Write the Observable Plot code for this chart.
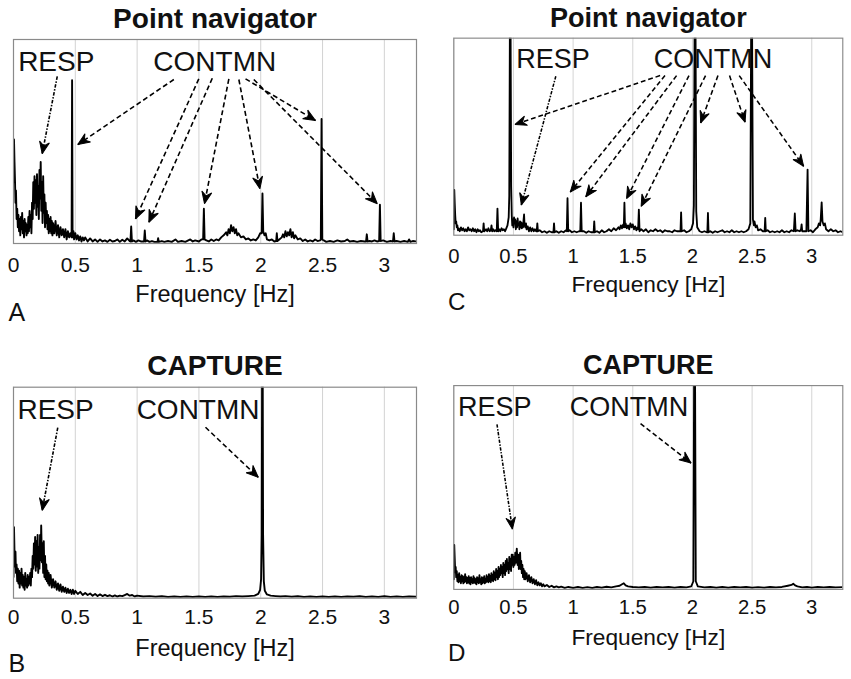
<!DOCTYPE html>
<html><head><meta charset="utf-8">
<script src="https://cdn.jsdelivr.net/npm/d3@7"></script>
<script src="https://cdn.jsdelivr.net/npm/@observablehq/plot@0.6"></script>
<style>
body{margin:0;background:#fff;}
#wrap{position:relative;width:851px;height:679px;overflow:hidden;background:#fff;}
.panel{position:absolute;}
</style></head><body><div id="wrap"></div>
<script>
// ---------- data ----------
const tickValues = [0, 0.5, 1, 1.5, 2, 2.5, 3];
const xLabel = "Frequency [Hz]";
const titles = {A: "Point navigator", C: "Point navigator", B: "CAPTURE", D: "CAPTURE"};
const annotationNames = ["RESP", "CONTMN"];

// [frequency Hz, relative amplitude (1 = top of axes)]
const spectrumA = [
[0,0.30],[0.004,0.51],[0.008,0.40],[0.012,0.31],[0.016,0.20],[0.02,0.26],[0.025,0.12],[0.03,0.17],[0.035,0.08],[0.04,0.14],
[0.045,0.06],[0.05,0.12],[0.055,0.04],[0.06,0.13],[0.065,0.07],[0.07,0.15],[0.075,0.05],[0.08,0.11],[0.085,0.03],[0.09,0.12],
[0.095,0.06],[0.1,0.10],[0.105,0.04],[0.11,0.09],[0.115,0.05],[0.12,0.13],[0.125,0.06],[0.13,0.16],[0.135,0.08],[0.14,0.14],
[0.145,0.05],[0.15,0.20],[0.155,0.12],[0.16,0.30],[0.165,0.17],[0.17,0.33],[0.175,0.20],[0.18,0.31],[0.185,0.14],[0.19,0.34],
[0.195,0.18],[0.2,0.28],[0.205,0.12],[0.21,0.36],[0.215,0.22],[0.22,0.40],[0.225,0.16],[0.23,0.30],[0.235,0.10],[0.24,0.33],
[0.245,0.15],[0.25,0.24],[0.255,0.08],[0.26,0.20],[0.265,0.10],[0.27,0.16],[0.275,0.07],[0.28,0.14],[0.285,0.05],[0.29,0.12],
[0.295,0.06],[0.3,0.13],[0.305,0.05],[0.31,0.11],[0.315,0.04],[0.32,0.10],[0.33,0.05],[0.34,0.11],[0.35,0.04],[0.36,0.09],
[0.37,0.03],[0.38,0.08],[0.39,0.04],[0.4,0.07],[0.41,0.03],[0.42,0.07],[0.43,0.02],[0.44,0.06],[0.45,0.03],[0.46,0.05],
[0.47,0.03],[0.474,0.80],[0.478,0.03],[0.485,0.06],[0.49,0.02],[0.5,0.05],[0.51,0.02],[0.52,0.04],[0.53,0.015],[0.54,0.035],
[0.55,0.01],[0.56,0.03],[0.57,0.015],[0.58,0.03],[0.6,0.01],[0.62,0.025],[0.64,0.01],[0.66,0.02],[0.68,0.008],[0.7,0.02],
[0.72,0.01],[0.74,0.015],[0.76,0.008],[0.78,0.018],[0.8,0.01],[0.82,0.012],[0.84,0.02],[0.86,0.008],[0.88,0.018],[0.9,0.01],
[0.92,0.025],[0.94,0.012],[0.946,0.01],[0.952,0.083],[0.958,0.01],[0.97,0.015],[0.99,0.008],[1.01,0.015],[1.03,0.01],[1.056,0.01],
[1.062,0.064],[1.068,0.01],[1.08,0.015],[1.1,0.008],[1.12,0.012],[1.14,0.008],[1.165,0.008],[1.17,0.026],[1.175,0.008],[1.2,0.012],
[1.22,0.008],[1.25,0.012],[1.28,0.008],[1.31,0.02],[1.33,0.008],[1.36,0.012],[1.39,0.008],[1.43,0.02],[1.45,0.01],[1.47,0.015],
[1.5,0.01],[1.52,0.02],[1.534,0.02],[1.54,0.17],[1.546,0.02],[1.56,0.015],[1.58,0.01],[1.6,0.02],[1.62,0.012],[1.64,0.02],
[1.66,0.015],[1.68,0.03],[1.7,0.04],[1.72,0.055],[1.73,0.04],[1.74,0.07],[1.75,0.05],[1.76,0.09],[1.77,0.06],[1.78,0.08],
[1.79,0.05],[1.8,0.07],[1.81,0.04],[1.82,0.05],[1.84,0.03],[1.86,0.035],[1.88,0.02],[1.9,0.025],[1.92,0.015],[1.94,0.02],
[1.96,0.015],[1.98,0.03],[1.995,0.05],[2.008,0.05],[2.014,0.245],[2.02,0.06],[2.03,0.04],[2.04,0.05],[2.05,0.02],[2.07,0.015],
[2.09,0.02],[2.11,0.01],[2.125,0.012],[2.13,0.05],[2.135,0.012],[2.15,0.02],[2.17,0.03],[2.18,0.045],[2.19,0.03],[2.2,0.06],
[2.21,0.035],[2.22,0.055],[2.23,0.04],[2.24,0.07],[2.25,0.03],[2.26,0.055],[2.27,0.025],[2.28,0.04],[2.3,0.02],[2.32,0.025],
[2.34,0.012],[2.36,0.02],[2.38,0.01],[2.4,0.015],[2.42,0.01],[2.44,0.02],[2.46,0.012],[2.48,0.015],[2.486,0.02],[2.492,0.61],
[2.498,0.02],[2.51,0.015],[2.53,0.008],[2.56,0.012],[2.59,0.008],[2.62,0.015],[2.65,0.01],[2.68,0.012],[2.7,0.02],[2.72,0.01],
[2.75,0.012],[2.78,0.008],[2.81,0.012],[2.84,0.01],[2.852,0.01],[2.858,0.045],[2.864,0.01],[2.88,0.012],[2.9,0.01],[2.92,0.015],
[2.94,0.01],[2.958,0.012],[2.964,0.19],[2.97,0.012],[2.99,0.015],[3.02,0.008],[3.05,0.012],[3.07,0.01],[3.076,0.05],[3.082,0.01],
[3.1,0.012],[3.13,0.008],[3.16,0.012],[3.19,0.008],[3.2,0.02],[3.21,0.008],[3.23,0.012],[3.26,0.01]
];

const spectrumC = [
[0,0.03],[0.004,0.23],[0.008,0.16],[0.012,0.10],[0.016,0.06],[0.02,0.07],[0.025,0.04],[0.03,0.05],[0.035,0.025],[0.04,0.035],
[0.05,0.02],[0.06,0.04],[0.07,0.025],[0.08,0.035],[0.09,0.02],[0.1,0.03],[0.11,0.02],[0.12,0.04],[0.13,0.025],[0.14,0.03],
[0.15,0.02],[0.16,0.035],[0.17,0.02],[0.18,0.03],[0.19,0.015],[0.2,0.03],[0.21,0.02],[0.22,0.025],[0.23,0.015],[0.245,0.02],
[0.25,0.06],[0.255,0.02],[0.27,0.03],[0.28,0.02],[0.29,0.035],[0.3,0.02],[0.31,0.025],[0.316,0.05],[0.322,0.02],[0.33,0.03],
[0.34,0.02],[0.35,0.025],[0.36,0.02],[0.366,0.135],[0.372,0.02],[0.38,0.03],[0.39,0.02],[0.4,0.035],[0.41,0.025],[0.42,0.03],
[0.43,0.02],[0.44,0.035],[0.45,0.05],[0.46,0.09],[0.465,0.2],[0.47,1.05],[0.476,1.05],[0.481,0.25],[0.486,0.10],[0.49,0.05],
[0.495,0.08],[0.5,0.04],[0.505,0.09],[0.51,0.06],[0.515,0.08],[0.52,0.03],[0.525,0.07],[0.53,0.04],[0.535,0.085],[0.54,0.05],
[0.545,0.06],[0.55,0.03],[0.555,0.07],[0.56,0.04],[0.565,0.065],[0.57,0.035],[0.575,0.06],[0.58,0.04],[0.585,0.08],[0.589,0.105],
[0.593,0.05],[0.6,0.04],[0.605,0.06],[0.61,0.03],[0.62,0.045],[0.63,0.02],[0.64,0.04],[0.65,0.02],[0.66,0.035],[0.67,0.02],
[0.68,0.03],[0.69,0.02],[0.695,0.02],[0.7,0.06],[0.705,0.02],[0.72,0.025],[0.74,0.015],[0.76,0.02],[0.78,0.012],[0.8,0.02],
[0.82,0.015],[0.835,0.015],[0.84,0.06],[0.845,0.015],[0.86,0.02],[0.88,0.012],[0.9,0.02],[0.92,0.015],[0.94,0.025],[0.947,0.02],
[0.953,0.188],[0.959,0.02],[0.97,0.025],[0.99,0.015],[1.01,0.02],[1.03,0.015],[1.05,0.02],[1.06,0.02],[1.066,0.165],[1.072,0.02],
[1.09,0.02],[1.11,0.012],[1.13,0.02],[1.15,0.015],[1.172,0.015],[1.177,0.07],[1.182,0.015],[1.2,0.02],[1.22,0.012],[1.24,0.025],
[1.26,0.015],[1.28,0.02],[1.3,0.03],[1.32,0.02],[1.34,0.035],[1.36,0.025],[1.38,0.04],[1.39,0.03],[1.4,0.05],[1.41,0.035],
[1.42,0.055],[1.425,0.04],[1.43,0.165],[1.435,0.04],[1.44,0.06],[1.45,0.035],[1.46,0.05],[1.47,0.03],[1.48,0.06],[1.49,0.04],
[1.5,0.055],[1.51,0.03],[1.52,0.045],[1.53,0.025],[1.54,0.04],[1.545,0.03],[1.551,0.13],[1.557,0.02],[1.57,0.03],[1.59,0.02],
[1.61,0.03],[1.63,0.015],[1.65,0.025],[1.67,0.02],[1.69,0.03],[1.71,0.02],[1.73,0.025],[1.75,0.015],[1.77,0.025],[1.79,0.02],
[1.81,0.02],[1.83,0.015],[1.85,0.025],[1.87,0.02],[1.89,0.02],[1.9,0.02],[1.905,0.116],[1.91,0.02],[1.93,0.025],[1.95,0.015],
[1.97,0.02],[1.99,0.03],[2.005,0.06],[2.012,0.15],[2.018,1.05],[2.026,1.05],[2.032,0.12],[2.04,0.04],[2.06,0.02],[2.08,0.015],
[2.1,0.02],[2.12,0.015],[2.125,0.015],[2.13,0.113],[2.135,0.015],[2.15,0.02],[2.17,0.012],[2.19,0.02],[2.21,0.015],[2.23,0.02],
[2.25,0.025],[2.27,0.015],[2.29,0.02],[2.31,0.015],[2.33,0.025],[2.35,0.015],[2.37,0.02],[2.39,0.015],[2.41,0.02],[2.43,0.015],
[2.45,0.02],[2.47,0.03],[2.485,0.06],[2.492,1.05],[2.5,1.05],[2.507,0.08],[2.515,0.05],[2.52,0.07],[2.53,0.04],[2.54,0.05],
[2.55,0.025],[2.57,0.03],[2.59,0.02],[2.605,0.02],[2.61,0.088],[2.615,0.02],[2.63,0.025],[2.65,0.015],[2.67,0.02],[2.69,0.015],
[2.71,0.02],[2.73,0.015],[2.75,0.025],[2.77,0.015],[2.79,0.02],[2.81,0.015],[2.83,0.025],[2.85,0.02],[2.858,0.11],[2.865,0.02],
[2.88,0.025],[2.9,0.02],[2.91,0.03],[2.915,0.055],[2.92,0.02],[2.94,0.02],[2.955,0.02],[2.965,0.333],[2.972,0.02],[2.99,0.025],
[3.01,0.015],[3.03,0.03],[3.05,0.04],[3.06,0.06],[3.07,0.05],[3.075,0.08],[3.083,0.167],[3.09,0.07],[3.1,0.05],[3.11,0.06],
[3.12,0.03],[3.14,0.02],[3.16,0.03],[3.18,0.02],[3.2,0.025],[3.22,0.015],[3.24,0.02],[3.26,0.015]
];

const spectrumB = [
[0,0.10],[0.004,0.336],[0.008,0.22],[0.012,0.15],[0.016,0.22],[0.02,0.12],[0.025,0.16],[0.03,0.08],[0.035,0.14],[0.04,0.07],
[0.045,0.13],[0.05,0.05],[0.055,0.12],[0.06,0.07],[0.065,0.14],[0.07,0.06],[0.075,0.11],[0.08,0.05],[0.085,0.10],[0.09,0.04],
[0.095,0.12],[0.1,0.06],[0.105,0.09],[0.11,0.05],[0.115,0.11],[0.12,0.06],[0.125,0.10],[0.13,0.07],[0.135,0.12],[0.14,0.06],
[0.145,0.14],[0.15,0.10],[0.155,0.20],[0.16,0.14],[0.165,0.26],[0.17,0.16],[0.175,0.29],[0.18,0.13],[0.185,0.27],[0.19,0.15],
[0.195,0.30],[0.2,0.12],[0.205,0.24],[0.21,0.14],[0.215,0.30],[0.22,0.18],[0.224,0.345],[0.23,0.17],[0.235,0.26],[0.24,0.12],
[0.245,0.27],[0.25,0.10],[0.255,0.20],[0.26,0.09],[0.265,0.16],[0.27,0.08],[0.275,0.13],[0.28,0.07],[0.285,0.12],[0.29,0.06],
[0.3,0.11],[0.31,0.05],[0.32,0.09],[0.33,0.05],[0.34,0.08],[0.35,0.04],[0.36,0.07],[0.37,0.035],[0.38,0.065],[0.39,0.03],
[0.4,0.055],[0.41,0.03],[0.42,0.05],[0.43,0.025],[0.44,0.045],[0.45,0.025],[0.46,0.04],[0.47,0.02],[0.48,0.04],[0.49,0.02],
[0.5,0.035],[0.52,0.02],[0.54,0.03],[0.56,0.015],[0.58,0.025],[0.6,0.015],[0.62,0.022],[0.64,0.012],[0.66,0.02],[0.68,0.01],
[0.7,0.018],[0.72,0.01],[0.74,0.016],[0.76,0.01],[0.78,0.014],[0.8,0.008],[0.82,0.013],[0.84,0.008],[0.86,0.012],[0.88,0.01],
[0.9,0.015],[0.92,0.02],[0.94,0.012],[0.96,0.015],[0.98,0.008],[1,0.012],[1.05,0.008],[1.1,0.01],[1.15,0.007],[1.2,0.009],
[1.25,0.006],[1.3,0.008],[1.35,0.006],[1.4,0.008],[1.45,0.006],[1.5,0.008],[1.55,0.006],[1.6,0.008],[1.65,0.006],[1.7,0.008],
[1.75,0.007],[1.8,0.01],[1.85,0.008],[1.9,0.01],[1.95,0.012],[1.98,0.02],[1.995,0.04],[2.003,0.09],[2.008,0.3],[2.011,1.05],
[2.016,1.05],[2.019,0.3],[2.025,0.08],[2.033,0.035],[2.05,0.018],[2.08,0.012],[2.12,0.01],[2.16,0.008],[2.2,0.01],[2.25,0.007],
[2.3,0.009],[2.35,0.006],[2.4,0.008],[2.45,0.006],[2.5,0.008],[2.55,0.006],[2.6,0.008],[2.65,0.006],[2.7,0.008],[2.75,0.007],
[2.8,0.009],[2.85,0.006],[2.9,0.008],[2.95,0.006],[3,0.009],[3.05,0.006],[3.1,0.008],[3.15,0.006],[3.2,0.008],[3.26,0.007]
];

const spectrumD = [
[0,0.05],[0.004,0.218],[0.008,0.15],[0.012,0.084],[0.016,0.11],[0.02,0.06],[0.025,0.09],[0.03,0.04],[0.035,0.07],[0.04,0.035],
[0.045,0.08],[0.05,0.04],[0.055,0.06],[0.06,0.03],[0.065,0.07],[0.07,0.04],[0.075,0.065],[0.08,0.03],[0.085,0.06],[0.09,0.035],
[0.095,0.075],[0.1,0.04],[0.105,0.06],[0.11,0.03],[0.115,0.055],[0.12,0.035],[0.125,0.065],[0.13,0.03],[0.135,0.055],[0.14,0.025],
[0.145,0.06],[0.15,0.035],[0.155,0.05],[0.16,0.03],[0.165,0.065],[0.17,0.035],[0.175,0.055],[0.18,0.03],[0.185,0.05],[0.19,0.025],
[0.195,0.06],[0.2,0.035],[0.205,0.055],[0.21,0.03],[0.215,0.07],[0.22,0.035],[0.225,0.05],[0.23,0.025],[0.235,0.06],[0.24,0.03],
[0.245,0.055],[0.25,0.035],[0.255,0.065],[0.26,0.03],[0.265,0.05],[0.27,0.035],[0.275,0.07],[0.28,0.04],[0.285,0.06],[0.29,0.035],
[0.295,0.075],[0.3,0.04],[0.305,0.065],[0.31,0.035],[0.315,0.08],[0.32,0.045],[0.325,0.07],[0.33,0.04],[0.335,0.09],[0.34,0.05],
[0.345,0.08],[0.35,0.045],[0.355,0.10],[0.36,0.06],[0.365,0.09],[0.37,0.05],[0.375,0.11],[0.38,0.06],[0.385,0.10],[0.39,0.07],
[0.395,0.12],[0.4,0.08],[0.405,0.11],[0.41,0.06],[0.415,0.13],[0.42,0.08],[0.425,0.12],[0.43,0.07],[0.435,0.14],[0.44,0.09],
[0.445,0.15],[0.45,0.10],[0.455,0.13],[0.46,0.08],[0.465,0.16],[0.47,0.10],[0.475,0.15],[0.48,0.09],[0.485,0.17],[0.49,0.12],
[0.494,0.17],[0.5,0.11],[0.505,0.16],[0.51,0.12],[0.515,0.18],[0.52,0.13],[0.528,0.20],[0.535,0.12],[0.54,0.17],[0.545,0.10],
[0.55,0.15],[0.556,0.18],[0.56,0.10],[0.565,0.14],[0.57,0.08],[0.575,0.12],[0.58,0.06],[0.585,0.10],[0.59,0.05],[0.595,0.09],
[0.6,0.05],[0.61,0.08],[0.62,0.04],[0.63,0.07],[0.64,0.035],[0.65,0.06],[0.66,0.03],[0.67,0.05],[0.68,0.025],[0.69,0.045],
[0.7,0.02],[0.71,0.035],[0.72,0.02],[0.73,0.03],[0.74,0.015],[0.75,0.025],[0.76,0.015],[0.78,0.022],[0.8,0.012],[0.82,0.018],
[0.84,0.01],[0.86,0.015],[0.88,0.01],[0.9,0.014],[0.93,0.008],[0.96,0.012],[1,0.008],[1.04,0.012],[1.08,0.008],[1.12,0.011],
[1.16,0.008],[1.2,0.012],[1.24,0.009],[1.28,0.013],[1.32,0.01],[1.36,0.015],[1.39,0.018],[1.41,0.025],[1.425,0.03],[1.44,0.02],
[1.46,0.015],[1.5,0.012],[1.55,0.01],[1.6,0.012],[1.65,0.009],[1.7,0.012],[1.75,0.01],[1.8,0.012],[1.85,0.009],[1.9,0.012],
[1.95,0.01],[1.99,0.015],[2.008,0.04],[2.014,1.05],[2.022,1.05],[2.028,0.04],[2.045,0.015],[2.1,0.01],[2.15,0.012],[2.2,0.009],
[2.25,0.012],[2.3,0.009],[2.35,0.012],[2.4,0.01],[2.45,0.012],[2.5,0.009],[2.55,0.011],[2.6,0.009],[2.65,0.012],[2.7,0.01],
[2.75,0.012],[2.8,0.018],[2.83,0.022],[2.845,0.028],[2.86,0.02],[2.88,0.015],[2.92,0.01],[2.96,0.012],[3,0.009],[3.05,0.012],
[3.1,0.01],[3.15,0.012],[3.2,0.01],[3.26,0.011]
];

// annotation label positions [frequency, amplitude] for RESP and CONTMN
const labelPosA = [[0.346, 0.89], [1.628, 0.89]];
const labelPosC = [[0.831, 0.89], [2.172, 0.89]];
const labelPosB = [[0.34, 0.894], [1.493, 0.894]];
const labelPosD = [[0.343, 0.894], [1.468, 0.894]];

// arrows [f1, a1, f2, a2] (start -> head)
const respArrowsA = [[0.354, 0.819, 0.232, 0.44]];
const contArrowsA = [
[1.297,0.804,0.52,0.485],[1.499,0.807,0.987,0.121],[1.608,0.81,1.095,0.104],[1.742,0.807,1.545,0.195],
[1.823,0.804,1.993,0.268],[1.877,0.807,2.443,0.603],[1.944,0.804,2.943,0.195]
];
const respArrowsC = [[0.855, 0.807, 0.566, 0.153]];
const contArrowsC = [
[1.729,0.81,0.513,0.562],[1.77,0.81,0.976,0.219],[1.867,0.81,1.106,0.195],[1.971,0.81,1.448,0.186],
[2.11,0.81,1.57,0.146],[2.214,0.81,2.069,0.57],[2.311,0.81,2.441,0.574],[2.392,0.81,2.932,0.35]
];
const respArrowsB = [[0.358, 0.808, 0.232, 0.416]];
const contArrowsB = [[1.553, 0.81, 1.98, 0.573]];
const respArrowsD = [[0.362, 0.81, 0.491, 0.296]];
const contArrowsD = [[1.565, 0.813, 1.988, 0.62]];

// ---------- drawing ----------
const FONT = "'Liberation Sans', Arial, Helvetica, sans-serif";
const svgns = "http://www.w3.org/2000/svg";

function headMarker(color, context) {
  const doc = (context && context.document) || document;
  const m = doc.createElementNS(svgns, "marker");
  m.setAttribute("viewBox", "-14 -7 16 14");
  m.setAttribute("markerWidth", "16");
  m.setAttribute("markerHeight", "14");
  m.setAttribute("markerUnits", "userSpaceOnUse");
  m.setAttribute("refX", "0");
  m.setAttribute("refY", "0");
  m.setAttribute("orient", "auto");
  const p = doc.createElementNS(svgns, "path");
  p.setAttribute("d", "M0,0L-12,-5L-8,0L-12,5Z");
  p.setAttribute("fill", "black");
  p.setAttribute("stroke", "black");
  p.setAttribute("stroke-width", "1");
  p.setAttribute("stroke-dasharray", "none");
  p.setAttribute("stroke-linejoin", "miter");
  m.appendChild(p);
  return m;
}

function makePanel(cfg) {
  const labels = annotationNames.map((name, i) => ({name, f: cfg.labelPos[i][0], a: cfg.labelPos[i][1]}));
  const toArrow = r => ({f1: r[0], a1: r[1], f2: r[2], a2: r[3]});
  const chart = Plot.plot({
    width: cfg.width,
    height: cfg.height,
    marginLeft: cfg.marginLeft,
    marginRight: 9,
    marginTop: cfg.marginTop,
    marginBottom: cfg.marginBottom,
    style: {fontFamily: FONT, fontSize: "21px", background: "white", color: "black", overflow: "visible"},
    x: {domain: [0, 3.26]},
    y: {domain: [0, 1], axis: null},
    marks: [
      Plot.gridX(tickValues, {stroke: "#d2d2d2", strokeOpacity: 1, strokeWidth: 1}),
      Plot.line(cfg.spectrum, {x: d => d[0], y: d => d[1], stroke: "black", strokeWidth: 1.9, clip: true}),
      Plot.frame({stroke: "#8a8a8a", strokeWidth: 1.2}),
      Plot.axisX(tickValues, {tickSize: 0, tickPadding: cfg.tickPadding, fontSize: 21, fill: "#111", tickFormat: d => String(d), label: null}),
      Plot.text(labels, {x: "f", y: "a", text: "name", fontSize: 28, fill: "#111"}),
      Plot.link(cfg.respArrows.map(toArrow), {x1: "f1", y1: "a1", x2: "f2", y2: "a2", stroke: "black", strokeWidth: 1.6, strokeDasharray: "3.5,1.5,1.5,1.5", markerEnd: headMarker}),
      Plot.link(cfg.contArrows.map(toArrow), {x1: "f1", y1: "a1", x2: "f2", y2: "a2", stroke: "black", strokeWidth: 1.6, strokeDasharray: "5,3", markerEnd: headMarker}),
      Plot.text([cfg.title], {frameAnchor: "top", lineAnchor: "middle", dy: cfg.titleDy, text: d => d, fontSize: 28, fontWeight: "bold", fill: "#111"}),
      Plot.text([xLabel], {frameAnchor: "bottom", lineAnchor: "middle", dy: cfg.xLabelDy, text: d => d, fontSize: 23.5, fill: "#111"}),
      Plot.text([cfg.letter], {frameAnchor: "bottom-left", lineAnchor: "middle", textAnchor: "start", dx: cfg.letterDx, dy: cfg.letterDy, text: d => d, fontSize: 25, fill: "#111"})
    ]
  });
  const div = document.createElement("div");
  div.className = "panel";
  div.style.left = cfg.left + "px";
  div.style.top = cfg.top + "px";
  div.appendChild(chart);
  document.getElementById("wrap").appendChild(div);
}

const topRow = {height: 330, marginTop: 39, marginBottom: 87, tickPadding: 14, titleDy: -20, xLabelDy: 51, letterDy: 69.5};
const bottomRow = {height: 339, marginTop: 46.7, marginBottom: 81.3, tickPadding: 11, titleDy: -21, xLabelDy: 50, letterDy: 66};

makePanel({...topRow, left: 0, top: 0, width: 425, marginLeft: 13, letterDx: -5,
  spectrum: spectrumA, labelPos: labelPosA, respArrows: respArrowsA, contArrows: contArrowsA, title: titles.A, letter: "A"});
makePanel({...topRow, left: 425, top: 0, width: 441, marginLeft: 29.3, letterDx: -6,
  spectrum: spectrumC, labelPos: labelPosC, respArrows: respArrowsC, contArrows: contArrowsC, title: titles.C, letter: "C"});
makePanel({...bottomRow, left: 0, top: 340, width: 425, marginLeft: 13, letterDx: -5,
  spectrum: spectrumB, labelPos: labelPosB, respArrows: respArrowsB, contArrows: contArrowsB, title: titles.B, letter: "B"});
makePanel({...bottomRow, left: 425, top: 340, width: 441, marginLeft: 29.3, letterDx: -6,
  spectrum: spectrumD, labelPos: labelPosD, respArrows: respArrowsD, contArrows: contArrowsD, title: titles.D, letter: "D"});
</script>
</body></html>
